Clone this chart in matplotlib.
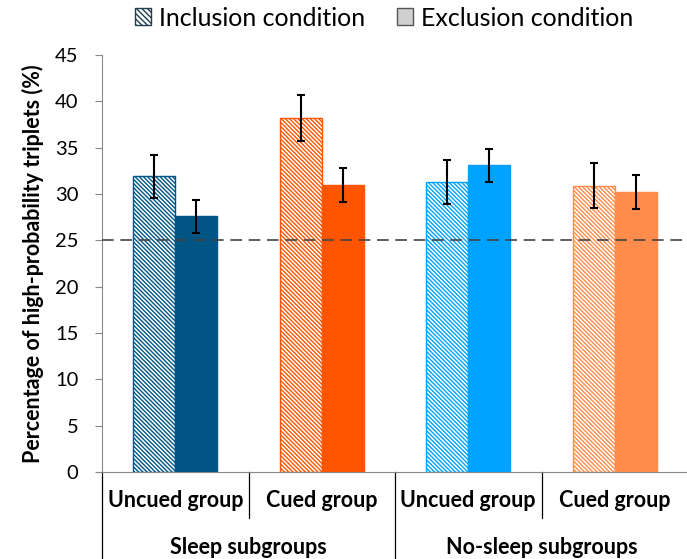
import numpy as np
import matplotlib.pyplot as plt
from matplotlib.patches import Patch

plt.rcParams['font.family'] = ['Lato', 'DejaVu Sans']
plt.rcParams['hatch.linewidth'] = 1.0

categories = ['Uncued group', 'Cued group', 'Uncued group', 'Cued group']
groups = ['Sleep subgroups', 'No-sleep subgroups']
inclusion = [31.9, 38.2, 31.3, 30.9]
inclusion_err = [2.35, 2.45, 2.4, 2.4]
exclusion = [27.6, 31.0, 33.1, 30.2]
exclusion_err = [1.8, 1.85, 1.8, 1.85]
colors = ['#005585', '#ff5500', '#00a2ff', '#ff8c4a']
chance = 25

fig = plt.figure(figsize=(6.87, 5.59), dpi=100)
ax = fig.add_axes([102 / 687, 1 - 472 / 559, 586 / 687, 417 / 559])

x = np.arange(len(categories))
w = 0.286
hatch = '\\' * 8
for i in range(len(categories)):
    ax.bar(x[i] - w / 2, inclusion[i], w, color='white', edgecolor=colors[i],
           hatch=hatch, linewidth=1, zorder=2)
    ax.bar(x[i] + w / 2, exclusion[i], w, color=colors[i], edgecolor=colors[i],
           linewidth=1, zorder=2)
ax.errorbar(x - w / 2, inclusion, yerr=inclusion_err, fmt='none', ecolor='black',
            elinewidth=1.5, capsize=3, capthick=1.5, zorder=3)
ax.errorbar(x + w / 2, exclusion, yerr=exclusion_err, fmt='none', ecolor='black',
            elinewidth=1.5, capsize=3, capthick=1.5, zorder=3)

ax.axhline(chance, color='#444444', linestyle=(0, (7, 4)), linewidth=1.2, zorder=4)

ax.set_xlim(-0.5, 3.5)
ax.set_ylim(0, 45)
ax.set_yticks(np.arange(0, 46, 5))
ax.tick_params(axis='y', labelsize=14.5, length=5, color='#888888', pad=12)
ax.set_xticks([])
for s in ['top', 'right']:
    ax.spines[s].set_visible(False)
for s in ['left', 'bottom']:
    ax.spines[s].set_color('#888888')
ax.set_ylabel('Percentage of high-probability triplets (%)', fontsize=15.5,
              fontweight='bold', labelpad=8)

# two-level category axis below the plot
trans = ax.get_xaxis_transform()
for b in [0.5, 2.5]:
    ax.plot([b, b], [0, -0.11], color='black', lw=0.9, transform=trans, clip_on=False)
for b in [-0.5, 1.5]:
    ax.plot([b, b], [0, -0.215], color='black', lw=0.9, transform=trans, clip_on=False)
for i, c in enumerate(categories):
    ax.text(x[i], -0.068, c, transform=trans, ha='center', va='center',
            fontsize=15.5, fontweight='bold')
for j, g in enumerate(groups):
    ax.text(0.5 + 2 * j, -0.18, g, transform=trans, ha='center', va='center',
            fontsize=15.5, fontweight='bold')

handles = [Patch(facecolor='white', edgecolor='#1f3f4f', hatch='\\' * 6, lw=1),
           Patch(facecolor='#d0d0d0', edgecolor='#555555', lw=1)]
fig.legend(handles, ['Inclusion condition', 'Exclusion condition'], loc='center',
           bbox_to_anchor=(384 / 687, 1 - 18 / 559), ncol=2, frameon=False,
           fontsize=18, handlelength=0.65, handleheight=0.65, columnspacing=1.3,
           handletextpad=0.3)

fig.savefig('out.png', dpi=100)
